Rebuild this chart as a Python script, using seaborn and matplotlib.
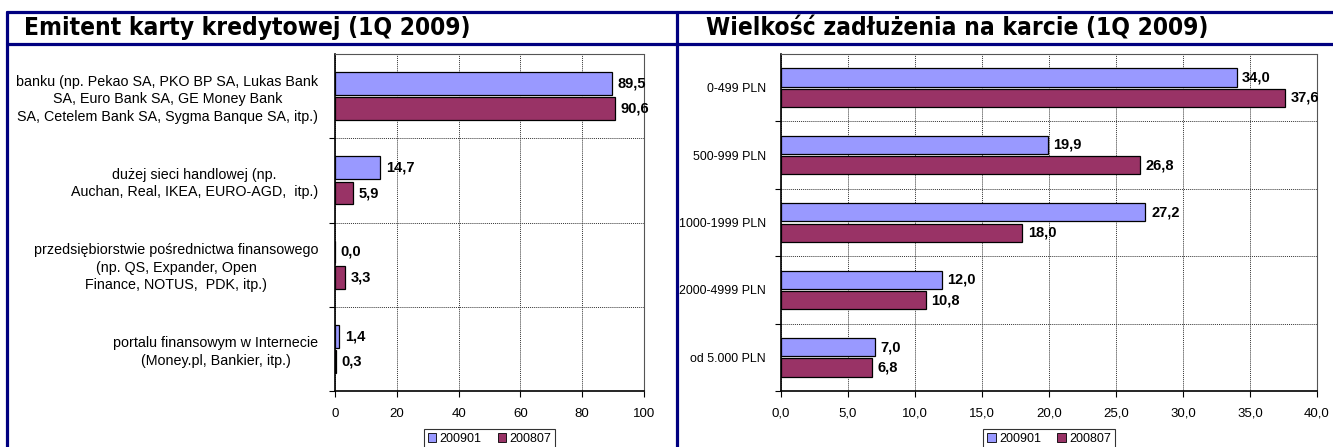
import numpy as np
import pandas as pd
import seaborn as sns
import matplotlib.pyplot as plt
from matplotlib.lines import Line2D
from matplotlib.patches import Patch

# data
series = ['200901', '200807']
issuer_labels = [
  'banku (np. Pekao SA, PKO BP SA, Lukas Bank\nSA, Euro Bank SA, GE Money Bank\nSA, Cetelem Bank SA, Sygma Banque SA, itp.)',
  'dużej sieci handlowej (np.\nAuchan, Real, IKEA, EURO-AGD,  itp.)',
  'przedsiębiorstwie pośrednictwa finansowego\n(np. QS, Expander, Open\nFinance, NOTUS,  PDK, itp.)',
  'portalu finansowym w Internecie\n(Money.pl, Bankier, itp.)',
]
issuer_200901 = [89.5, 14.7, 0.0, 1.4]
issuer_200807 = [90.6, 5.9, 3.3, 0.3]

debt_labels = ['0-499 PLN', '500-999 PLN', '1000-1999 PLN', '2000-4999 PLN', 'od 5.000 PLN']
debt_200901 = [34.0, 19.9, 27.2, 12.0, 7.0]
debt_200807 = [37.6, 26.8, 18.0, 10.8, 6.8]

colors = ['#9999FF', '#993366']
navy = '#000080'

sns.set_theme(style='white')
plt.rcParams['font.family'] = ['Liberation Sans', 'DejaVu Sans']
plt.rcParams['text.color'] = 'black'
plt.rcParams['xtick.color'] = 'black'
plt.rcParams['ytick.color'] = 'black'


def long_frame(labels, first, second):
  return pd.DataFrame({
    'cat': labels * 2,
    'series': [series[0]] * len(labels) + [series[1]] * len(labels),
    'value': first + second,
  })


def comma(v, digits):
  return f'{v:.{digits}f}'.replace('.', ',')


def draw_panel(ax, df, labels, xmax, xstep, tick_digits, label_size, spacing, pad):
  n = len(labels)
  sns.barplot(data=df, y='cat', x='value', hue='series', hue_order=series,
              order=labels, palette=colors, orient='h', width=0.6, gap=0.1,
              saturation=1, edgecolor='black', linewidth=0.9, ax=ax)

  for container in ax.containers:
    ax.bar_label(container, labels=[comma(v, 1) for v in container.datavalues],
                 padding=4, fontsize=10.5, fontweight='bold', color='black')

  ax.set_xlim(0, xmax)
  ticks = np.arange(0, xmax + xstep / 2, xstep)
  ax.set_xticks(ticks, [comma(t, tick_digits) for t in ticks])
  ax.set_ylim(n - 0.5, -0.5)
  ax.set_yticks(range(n), labels)
  ax.set_yticks(np.arange(0.5, n), minor=True)
  for lbl in ax.get_yticklabels():
    lbl.set_multialignment('center')
    lbl.set_linespacing(spacing)

  ax.tick_params(axis='y', which='major', length=0, pad=pad, labelsize=label_size)
  ax.tick_params(axis='y', which='minor', length=4, width=0.8, direction='out', left=True)
  ax.tick_params(axis='x', length=4, width=0.8, direction='out', bottom=True, labelsize=9.5, pad=8)

  ax.grid(axis='x', which='major', color='#333333', linestyle=(0, (1, 1)), linewidth=0.7)
  ax.grid(axis='y', which='minor', color='#333333', linestyle=(0, (1, 1)), linewidth=0.7)
  ax.set_axisbelow(True)

  for side in ['left', 'bottom']:
    ax.spines[side].set_color('black')
    ax.spines[side].set_linewidth(1.2)
  for side in ['top', 'right']:
    ax.spines[side].set_color('#555555')
    ax.spines[side].set_linestyle((0, (1, 1)))
    ax.spines[side].set_linewidth(0.8)

  ax.set_xlabel('')
  ax.set_ylabel('')
  handles = [Patch(facecolor=c, edgecolor='black', linewidth=0.6) for c in colors]
  leg = ax.legend(handles, series, loc='upper center', bbox_to_anchor=(0.5, -0.113),
                  borderaxespad=0, ncol=2, frameon=True, fancybox=False, edgecolor='black',
                  handlelength=0.7, handleheight=0.7, handletextpad=0.25,
                  columnspacing=1.3, fontsize=9, borderpad=0.3)
  leg.get_frame().set_linewidth(0.8)


W, H = 1333, 447
fig = plt.figure(figsize=(W / 100, H / 100), dpi=100)

ax1 = fig.add_axes([335 / W, 1 - 391 / H, (644 - 335) / W, (391 - 54) / H])
ax2 = fig.add_axes([781 / W, 1 - 391 / H, (1317 - 781) / W, (391 - 54) / H])

draw_panel(ax1, long_frame(issuer_labels, issuer_200901, issuer_200807), issuer_labels,
           100, 20, 0, 10.3, 1.3, 12)
draw_panel(ax2, long_frame(debt_labels, debt_200901, debt_200807), debt_labels,
           40, 5, 1, 8.9, 1.2, 11)

# panel frames and title bands
for y in [12, 44]:
  fig.add_artist(Line2D([7 / W, 1], [1 - y / H, 1 - y / H], transform=fig.transFigure, color=navy, lw=2.3))
for x in [7, 677]:
  fig.add_artist(Line2D([x / W, x / W], [0, 1 - 12 / H], transform=fig.transFigure, color=navy, lw=2.3))

title_kw = dict(fontsize=17.6, fontweight='bold', fontstretch='condensed', family='DejaVu Sans',
                va='center', ha='left', color='black')
fig.text(24 / W, 1 - 28.5 / H, 'Emitent karty kredytowej (1Q 2009)', **title_kw)
fig.text(706 / W, 1 - 28.5 / H, 'Wielkość zadłużenia na karcie (1Q 2009)', **title_kw)

fig.savefig('out.png', dpi=100)
